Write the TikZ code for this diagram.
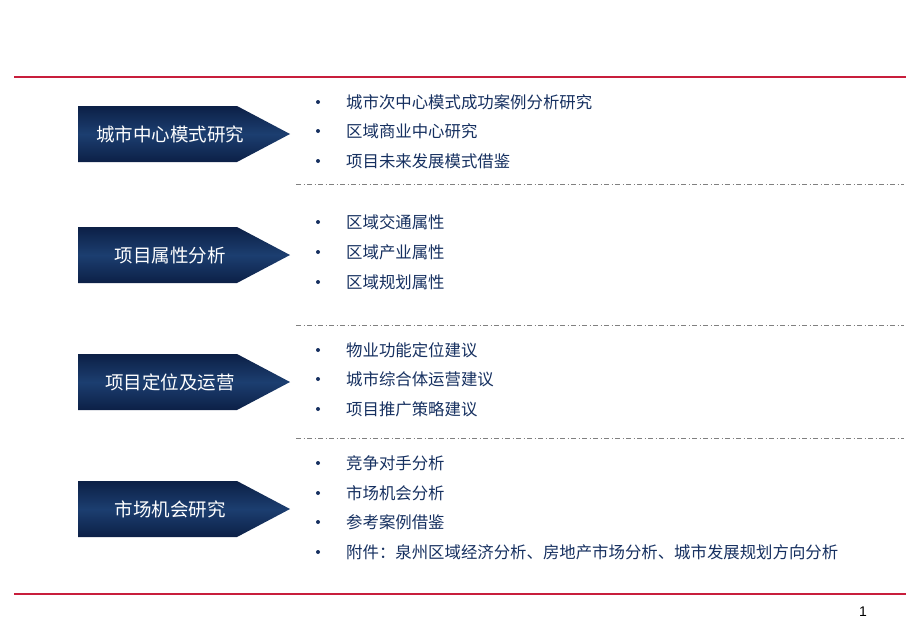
\documentclass[tikz,border=0pt]{standalone}
\usepackage{fontspec}
\setmainfont{Liberation Sans}
\newfontfamily\cjk{Noto Sans CJK SC}
\definecolor{navydark}{RGB}{12,32,70}
\definecolor{navymid}{RGB}{28,62,112}
\definecolor{navytext}{RGB}{22,48,96}
\definecolor{redline}{RGB}{200,30,60}

\begin{document}
\begin{tikzpicture}[x=1pt,y=-1pt,
    head arrow/.style={top color=navydark,bottom color=navydark,middle color=navymid},
    head text/.style={font=\cjk\fontsize{18.5}{20}\selectfont,text=white},
    item text/.style={anchor=west,inner sep=0pt,font=\cjk\fontsize{16.4}{18}\selectfont,text=navytext},
    bullet/.style={circle,fill=navytext,inner sep=0pt,minimum size=4pt},
    rule line/.style={draw=redline,line width=1.4pt},
    sep line/.style={draw=gray,dash pattern=on 5pt off 2.5pt on 1pt off 2.5pt}]
  \useasboundingbox (0,0) rectangle (920,637);

  % red rules
  \coordinate (top l) at (14,77);
  \coordinate (top r) at (906,77);
  \coordinate (bot l) at (14,594);
  \coordinate (bot r) at (906,594);
  \draw[rule line] (top l) -- (top r);
  \draw[rule line] (bot l) -- (bot r);

  % dash-dot separators
  \foreach \y/\name in {184/s1,325/s2,438/s3} {
    \coordinate (\name l) at (296,\y);
    \coordinate (\name r) at (904,\y);
    \draw[sep line] (\name l) -- (\name r);
  }

  % heading arrows
  \foreach \y/\name/\txt in {134/h1/城市中心模式研究,255/h2/项目属性分析,
                             382/h3/项目定位及运营,509/h4/市场机会研究} {
    \path[head arrow] (78,\y-28) -- (237,\y-28) -- (290,\y) -- (237,\y+28)
                      -- (78,\y+28) -- cycle;
    \node[head text] (\name) at (170,\y) {\txt};
  }

  % bullet items
  \foreach \y/\txt [count=\i] in {102/城市次中心模式成功案例分析研究,131/区域商业中心研究,
      161/项目未来发展模式借鉴,222/区域交通属性,252/区域产业属性,282/区域规划属性,
      350/物业功能定位建议,379/城市综合体运营建议,409/项目推广策略建议,
      463/竞争对手分析,493/市场机会分析,522/参考案例借鉴,
      552/附件：泉州区域经济分析、房地产市场分析、城市发展规划方向分析} {
    \node[bullet] (b\i) at (318,\y) {};
    \node[item text] (t\i) at (346,\y) {\txt};
  }

  \node[font=\fontsize{14}{15}\selectfont] (page) at (863,612) {1};
\end{tikzpicture}
\end{document}
